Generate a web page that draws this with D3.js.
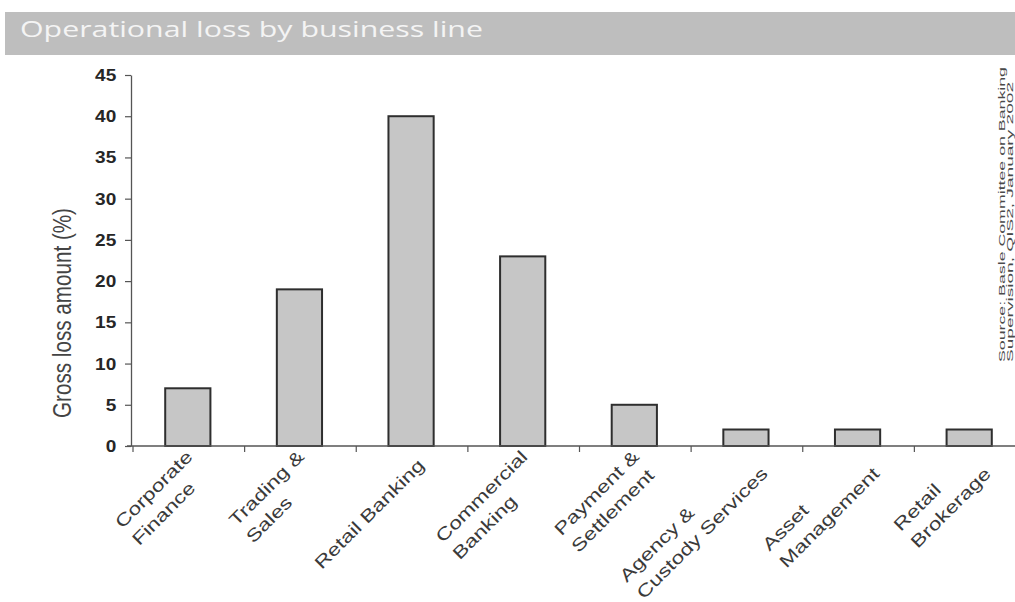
<!DOCTYPE html>
<html>
<head>
<meta charset="utf-8">
<script src="https://cdnjs.cloudflare.com/ajax/libs/d3/7.8.5/d3.min.js"></script>
<style>
  html, body { margin: 0; padding: 0; background: #ffffff; }
  svg { display: block; }
</style>
</head>
<body>
<script>
// ---- data ----
const categories = ["Corporate Finance", "Trading & Sales", "Retail Banking", "Commercial Banking",
  "Payment & Settlement", "Agency & Custody Services", "Asset Management", "Retail Brokerage"];
const categoryLines = [["Corporate", "Finance"], ["Trading &", "Sales"], ["Retail Banking"],
  ["Commercial", "Banking"], ["Payment &", "Settlement"], ["Agency &", "Custody Services"],
  ["Asset", "Management"], ["Retail", "Brokerage"]];
const values = [7, 19, 40, 23, 5, 2, 2, 2];
const yTicks = [0, 5, 10, 15, 20, 25, 30, 35, 40, 45];
const titleText = "Operational loss by business line";
const yTitle = "Gross loss amount (%)";
const sourceLines = ["Source: Basle Committee on Banking", "Supervision, QIS2, January 2002"];

// ---- layout ----
const W = 1015, H = 602;
const axisY = 446, axisX = 131;

const svg = d3.select("body").append("svg").attr("width", W).attr("height", H);

// title bar
svg.append("rect").attr("x", 5).attr("y", 12).attr("width", W - 5).attr("height", 43)
  .attr("fill", "#bebebe");
svg.append("text").attr("x", 20).attr("y", 37)
  .attr("font-family", "'Open Sans', sans-serif").attr("font-size", 22.5)
  .attr("fill", "#f4f4f4").attr("textLength", 463).attr("lengthAdjust", "spacingAndGlyphs")
  .text(titleText);

// scales
const x = d3.scaleBand().domain(categories).range([132, 1025]).padding(0);
const y = d3.scaleLinear().domain([0, 45]).range([axisY, 75]);
const barW = x.bandwidth() * 0.405;

// bars
svg.append("g").selectAll("rect").data(values).join("rect")
  .attr("x", (d, i) => x(categories[i]) + x.bandwidth() / 2 - barW / 2)
  .attr("y", d => y(d))
  .attr("width", barW)
  .attr("height", d => axisY - y(d))
  .attr("fill", "#c6c6c6")
  .attr("stroke", "#2e2e2e")
  .attr("stroke-width", 2);

// y axis
const TS = 1.12;
const yAxis = svg.append("g").attr("transform", `translate(${axisX},0)`)
  .call(d3.axisLeft(y).tickValues(yTicks).tickSize(6).tickPadding(7.2).tickSizeOuter(0));
yAxis.select(".domain").attr("stroke", "#555").attr("stroke-width", 1.3);
yAxis.selectAll(".tick line").attr("stroke", "#555").attr("stroke-width", 1.2);
yAxis.selectAll(".tick text")
  .attr("font-family", "'Liberation Sans', Arial, sans-serif")
  .attr("font-weight", "bold").attr("font-size", 17).attr("fill", "#262626")
  .attr("transform", `scale(${TS},1)`);

// x axis line + ticks at band boundaries
svg.append("line").attr("x1", 127).attr("x2", W).attr("y1", axisY).attr("y2", axisY)
  .attr("stroke", "#555").attr("stroke-width", 1.5);
const boundaries = categories.map(c => x(c));
svg.append("g").selectAll("line").data(boundaries).join("line")
  .attr("x1", d => d + 1).attr("x2", d => d + 1)
  .attr("y1", axisY).attr("y2", axisY + 6)
  .attr("stroke", "#555").attr("stroke-width", 1.2);

// y axis title
svg.append("text")
  .attr("transform", `translate(71,313) scale(1.4,1) rotate(-90)`)
  .attr("text-anchor", "middle")
  .attr("font-family", "'Liberation Sans', Arial, sans-serif").attr("font-size", 18)
  .attr("fill", "#444").attr("textLength", 210).attr("lengthAdjust", "spacingAndGlyphs")
  .text(yTitle);

// category labels (rotated -45°, wide glyphs)
const fs = 17.5, lh = 24, LS = 1.3;
categoryLines.forEach((lines, i) => {
  const cx = x(categories[i]) + x.bandwidth() / 2;
  const g = svg.append("g")
    .attr("transform", `translate(${cx + 10},${axisY + 16}) rotate(-45) scale(${LS},1)`);
  const texts = lines.map((ln, j) => g.append("text")
    .attr("font-family", "'Liberation Sans', Arial, sans-serif").attr("font-size", fs)
    .attr("fill", "#3a3a3a")
    .attr("y", (j - (lines.length - 1) / 2) * lh + 0.35 * fs)
    .text(ln));
  const maxLen = d3.max(texts, t => t.node().getComputedTextLength());
  texts.forEach(t => t.attr("x", -maxLen));
});

// source note
sourceLines.forEach((s, i) => {
  svg.append("text")
    .attr("transform", `translate(${1005 + i * 8},362) rotate(-90)`)
    .attr("font-family", "'Liberation Sans', Arial, sans-serif").attr("font-size", 9.5)
    .attr("fill", "#4a4a4a")
    .attr("textLength", i === 0 ? 295 : 280).attr("lengthAdjust", "spacingAndGlyphs")
    .text(s);
});
</script>
</body>
</html>
